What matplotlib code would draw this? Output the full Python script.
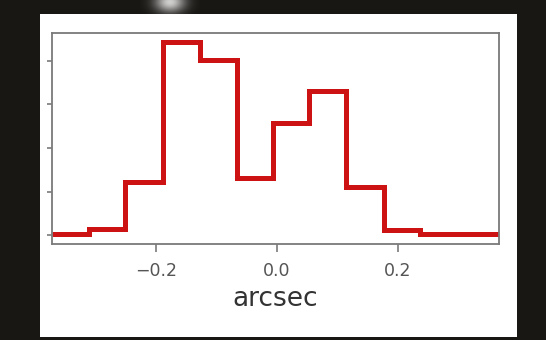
import matplotlib.pyplot as plt
import numpy as np
from matplotlib.patches import Rectangle

# bin edges (arcsec) and step heights
edges = [-0.372, -0.311, -0.251, -0.188, -0.127, -0.066, -0.006, 0.054, 0.114, 0.177, 0.238, 0.368]
counts = [0.02, 0.14, 1.22, 4.44, 4.02, 1.31, 2.57, 3.31, 1.10, 0.12, 0.02]
xticks = [-0.2, 0.0, 0.2]
yticks = [0, 1, 2, 3, 4]

fig = plt.figure(figsize=(5.46, 3.40), dpi=100)
fig.patch.set_facecolor("#191714")

# soft light spot above the card
glow_ax = fig.add_axes([140 / 546, 1 - 32 / 340, 60 / 546, 60 / 340])
gx, gy = np.meshgrid(np.linspace(-1, 1, 120), np.linspace(-1, 1, 120))
glow = np.zeros((120, 120, 4))
glow[..., :3] = 1.0
glow[..., 3] = 0.8 * np.exp(-(gx ** 2 / 0.25 + gy ** 2 / 0.12))
glow_ax.imshow(glow, extent=(-1, 1, -1, 1), interpolation="bilinear")
glow_ax.axis("off")

# white card behind the plot
fig.add_artist(Rectangle((40 / 546, 1 - 337 / 340), 477 / 546, 323 / 340,
                         transform=fig.transFigure, facecolor="white",
                         edgecolor="none", zorder=5))

ax = fig.add_axes([52 / 546, 1 - 243.5 / 340, 447 / 546, 210.5 / 340])
ax.set_zorder(10)
ax.set_facecolor("white")

ax.stairs(counts, edges, baseline=None, color="#cc1212", linewidth=3.6)

ax.set_xlim(-0.372, 0.368)
ax.set_ylim(-0.19, 4.64)
ax.set_xticks(xticks)
ax.set_xticklabels(["\u22120.2", "0.0", "0.2"])
ax.set_yticks(yticks)
ax.set_yticklabels([])

for s in ax.spines.values():
    s.set_color("#7a7a7a")
    s.set_linewidth(1.3)
ax.tick_params(axis="x", length=6, width=1.2, color="#7a7a7a",
               labelsize=12.5, labelcolor="#555555", pad=7)
ax.tick_params(axis="y", length=3.5, width=1.2, color="#7a7a7a")

ax.set_xlabel("arcsec", fontsize=19, color="#333333", labelpad=5)

fig.savefig("out.png", dpi=100, facecolor=fig.get_facecolor())
